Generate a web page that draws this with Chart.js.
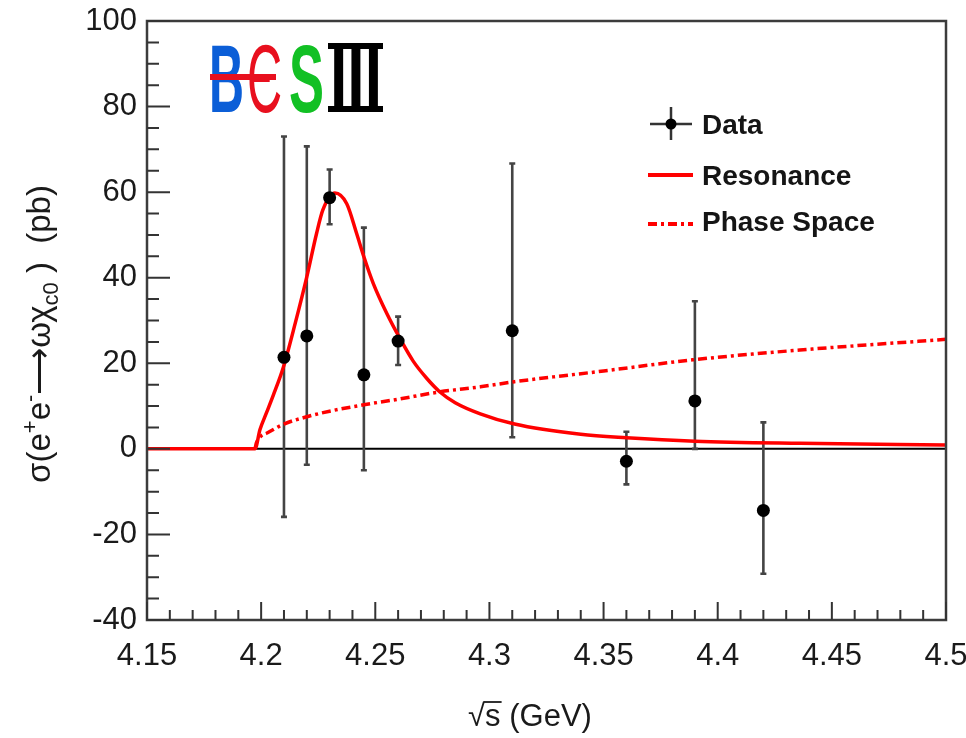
<!DOCTYPE html>
<html>
<head>
	<meta charset="utf-8"/>
	<title>BESIII e+e- -> omega chi_c0</title>
	<script src="https://cdn.jsdelivr.net/npm/chart.js@4"></script>
	<style>
		body{margin:0;background:#fff}
	</style>
</head>
<body>
<canvas id="chart" width="966" height="738"></canvas>
<script>
// tick labels
const xTicks = [4.15, 4.2, 4.25, 4.3, 4.35, 4.4, 4.45, 4.5];
const yTicks = [-40, -20, 0, 20, 40, 60, 80, 100];

// measured points (GeV, pb) with asymmetric errors
const energy  = [4.21, 4.22, 4.23, 4.245, 4.26, 4.31, 4.36, 4.39, 4.42];
const sigma   = [21.4, 26.4, 58.7, 17.3, 25.2, 27.6, -2.9, 11.2, -14.4];
const errUp   = [51.6, 44.3, 6.6, 34.4, 5.7, 39.1, 6.9, 23.3, 20.6];
const errDown = [37.3, 30.1, 6.2, 22.3, 5.6, 24.9, 5.4, 11.2, 14.8];

// resonance fit curve
const resE = [4.15, 4.1973, 4.1995, 4.2024, 4.2053, 4.2097, 4.2150, 4.2200, 4.2243, 4.2270, 4.2323, 4.2375, 4.2418, 4.2450, 4.2491, 4.2550, 4.2608, 4.2666, 4.2725, 4.2783, 4.2850, 4.2960, 4.3110, 4.3400, 4.3600, 4.3900, 4.4360, 4.5];
const resY = [0, 0, 4.5, 8.5, 12.5, 19.0, 29.5, 40.2, 50.4, 55.8, 59.8, 57.3, 50.4, 44.9, 38.7, 31.7, 25.8, 20.5, 16.5, 13.3, 10.8, 8.2, 5.8, 3.4, 2.6, 1.8, 1.3, 0.9];

// phase space curve
const phsE = [4.1973, 4.198, 4.2, 4.2026, 4.21, 4.22, 4.23, 4.245, 4.26, 4.278, 4.296, 4.311, 4.35, 4.389, 4.436, 4.5];
const phsY = [0, 1.5, 3.0, 3.7, 5.8, 7.5, 8.8, 10.3, 11.6, 13.3, 14.5, 15.7, 18.2, 20.8, 23.1, 25.6];

const FONT = "'Liberation Sans', Arial, Helvetica, sans-serif";
const RED = '#ff0000';

function pts(xs, ys){ return xs.map(function(x,i){ return {x:x, y:ys[i]}; }); }

const decor = {
	id:'decor',
	beforeDatasetsDraw:function(chart){
		const c = chart.ctx, xs = chart.scales.x, ys = chart.scales.y;
		c.save();
		// zero line
		c.strokeStyle = '#000'; c.lineWidth = 2;
		c.beginPath();
		c.moveTo(xs.left, ys.getPixelForValue(0));
		c.lineTo(xs.right, ys.getPixelForValue(0));
		c.stroke();
		// error bars
		c.strokeStyle = '#444'; c.lineWidth = 2.6;
		energy.forEach(function(e,i){
			const px = xs.getPixelForValue(e);
			const top = ys.getPixelForValue(sigma[i] + errUp[i]);
			const bot = ys.getPixelForValue(sigma[i] - errDown[i]);
			c.beginPath();
			c.moveTo(px, top); c.lineTo(px, bot);
			c.moveTo(px-3, top); c.lineTo(px+3, top);
			c.moveTo(px-3, bot); c.lineTo(px+3, bot);
			c.stroke();
		});
		c.restore();
	},
	afterDraw:function(chart){
		const c = chart.ctx, xs = chart.scales.x, ys = chart.scales.y, a = chart.chartArea;
		c.save();
		// frame
		c.strokeStyle = '#3c3c3c'; c.lineWidth = 2.5;
		c.strokeRect(a.left, a.top, a.right-a.left, a.bottom-a.top);
		// ticks inside the frame
		c.lineWidth = 2; c.strokeStyle = '#333';
		c.beginPath();
		for (let i=0;i<yTicks.length;i++){
			let p = ys.getPixelForValue(yTicks[i]);
			c.moveTo(a.left, p); c.lineTo(a.left+23, p);
			if (i<yTicks.length-1){
				const st = (yTicks[i+1]-yTicks[i])/4;
				for (let k=1;k<4;k++){
					p = ys.getPixelForValue(yTicks[i]+k*st);
					c.moveTo(a.left, p); c.lineTo(a.left+12, p);
				}
			}
		}
		for (let i=0;i<xTicks.length;i++){
			let p = xs.getPixelForValue(xTicks[i]);
			c.moveTo(p, a.bottom); c.lineTo(p, a.bottom-18);
			if (i<xTicks.length-1){
				const st = (xTicks[i+1]-xTicks[i])/5;
				for (let k=1;k<5;k++){
					p = xs.getPixelForValue(xTicks[i]+k*st);
					c.moveTo(p, a.bottom); c.lineTo(p, a.bottom-10);
				}
			}
		}
		c.stroke();

		// legend
		c.lineWidth = 2.5; c.strokeStyle = '#333';
		c.beginPath();
		c.moveTo(650,124); c.lineTo(692,124);
		c.moveTo(671,107); c.lineTo(671,140);
		c.stroke();
		c.fillStyle = '#000';
		c.beginPath(); c.arc(671,124,5.5,0,Math.PI*2); c.fill();
		c.strokeStyle = RED; c.lineWidth = 4;
		c.beginPath(); c.moveTo(648,175); c.lineTo(693,175); c.stroke();
		c.setLineDash([9,4,3,4]);
		c.beginPath(); c.moveTo(648,224); c.lineTo(693,224); c.stroke();
		c.setLineDash([]);
		c.fillStyle = '#151515';
		c.font = 'bold 28px ' + FONT;
		c.textBaseline = 'middle'; c.textAlign = 'left';
		c.fillText('Data', 702, 126);
		c.fillText('Resonance', 702, 177);
		c.fillText('Phase Space', 702, 223);

		// BESIII logo
		function glyph(ch, x, w, color, font){
			c.save();
			c.font = font;
			const m = c.measureText(ch).width;
			c.translate(x, 112);
			c.scale(w/m, 1);
			c.fillStyle = color;
			c.textBaseline = 'alphabetic';
			c.fillText(ch, 0, 0);
			c.restore();
		}
		const lf = '96px ' + FONT;
		glyph('B', 209, 35, '#0b5ed7', 'bold ' + lf);
		glyph('Є', 247, 35, '#e8101e', lf);
		glyph('S', 289, 35, '#12c024', 'bold ' + lf);
		glyph('III', 330, 52, '#000', 'bold ' + lf);
		c.fillStyle = '#000';
		c.fillRect(328, 43, 55, 6);
		c.fillRect(328, 106, 55, 6);
		c.fillStyle = '#e8101e';
		c.fillRect(210, 74, 66, 6);

		// x title
		c.fillStyle = '#1a1a1a';
		c.font = '31px ' + FONT;
		c.textBaseline = 'alphabetic';
		const xt1 = '√', xt2 = 's', xt3 = ' (GeV)';
		const w1 = c.measureText(xt1).width, w2 = c.measureText(xt2).width, w3 = c.measureText(xt3).width;
		let x0 = 530 - (w1+w2+w3)/2;
		c.fillText(xt1, x0, 726);
		c.fillText(xt2, x0+w1, 726);
		c.fillText(xt3, x0+w1+w2, 726);
		c.lineWidth = 1.8; c.strokeStyle = '#1a1a1a';
		c.beginPath(); c.moveTo(x0+w1-1, 702); c.lineTo(x0+w1+w2+1, 702); c.stroke();

		// y title with super/subscripts
		c.save();
		c.translate(50, 334);
		c.rotate(-Math.PI/2);
		const parts = [
			['σ(e',0,33], ['+',-13,22], ['e',0,33], ['-',-13,22],
			['⟶ωχ',0,33], ['c0',8,22], [' )  (pb)',0,33]
		];
		let tot = 0;
		parts.forEach(function(p){ c.font = p[2]+'px '+FONT; tot += c.measureText(p[0]).width; });
		let px = -tot/2;
		parts.forEach(function(p){
			c.font = p[2]+'px '+FONT;
			c.fillText(p[0], px, p[1]);
			px += c.measureText(p[0]).width;
		});
		c.restore();
		c.restore();
	}
};

new Chart(document.getElementById('chart'), {
	type: 'scatter',
	data: {
		datasets: [{
			label: 'Data',
			data: pts(energy, sigma),
			pointRadius: 6.5,
			pointBackgroundColor: '#000',
			pointBorderWidth: 0,
			order: 0
		},{
			label: 'Resonance',
			data: pts(resE, resY),
			showLine: true,
			pointRadius: 0,
			borderColor: RED,
			borderWidth: 3.5,
			cubicInterpolationMode: 'monotone',
			order: 1
		},{
			label: 'Phase Space',
			data: pts(phsE, phsY),
			showLine: true,
			pointRadius: 0,
			borderColor: RED,
			borderWidth: 3.5,
			borderDash: [9,4,3,4],
			cubicInterpolationMode: 'monotone',
			order: 2
		}]
	},
	options: {
		responsive: false,
		animation: false,
		layout: { padding: { top: 21, right: 20, left: 0, bottom: 0 } },
		plugins: { legend: { display: false }, tooltip: { enabled: false } },
		scales: {
			x: {
				type: 'linear', min: 4.15, max: 4.5,
				grid: { display: false, drawTicks: false },
				border: { display: false },
				afterBuildTicks: function(s){ s.ticks = xTicks.map(function(v){ return {value:v}; }); },
				afterFit: function(s){ s.height = 118; s.paddingLeft = 0; s.paddingRight = 0; },
				ticks: {
					font: { size: 31, family: FONT }, color: '#1a1a1a',
					padding: 18, maxRotation: 0, autoSkip: false,
					callback: function(v){ return String(+v.toFixed(2)); }
				}
			},
			y: {
				min: -40, max: 100,
				grid: { display: false, drawTicks: false },
				border: { display: false },
				afterBuildTicks: function(s){ s.ticks = yTicks.map(function(v){ return {value:v}; }); },
				afterFit: function(s){ s.width = 147; s.paddingTop = 0; s.paddingBottom = 0; },
				ticks: {
					font: { size: 31, family: FONT }, color: '#1a1a1a',
					padding: 10, autoSkip: false
				}
			}
		}
	},
	plugins: [decor]
});
</script>
</body>
</html>
